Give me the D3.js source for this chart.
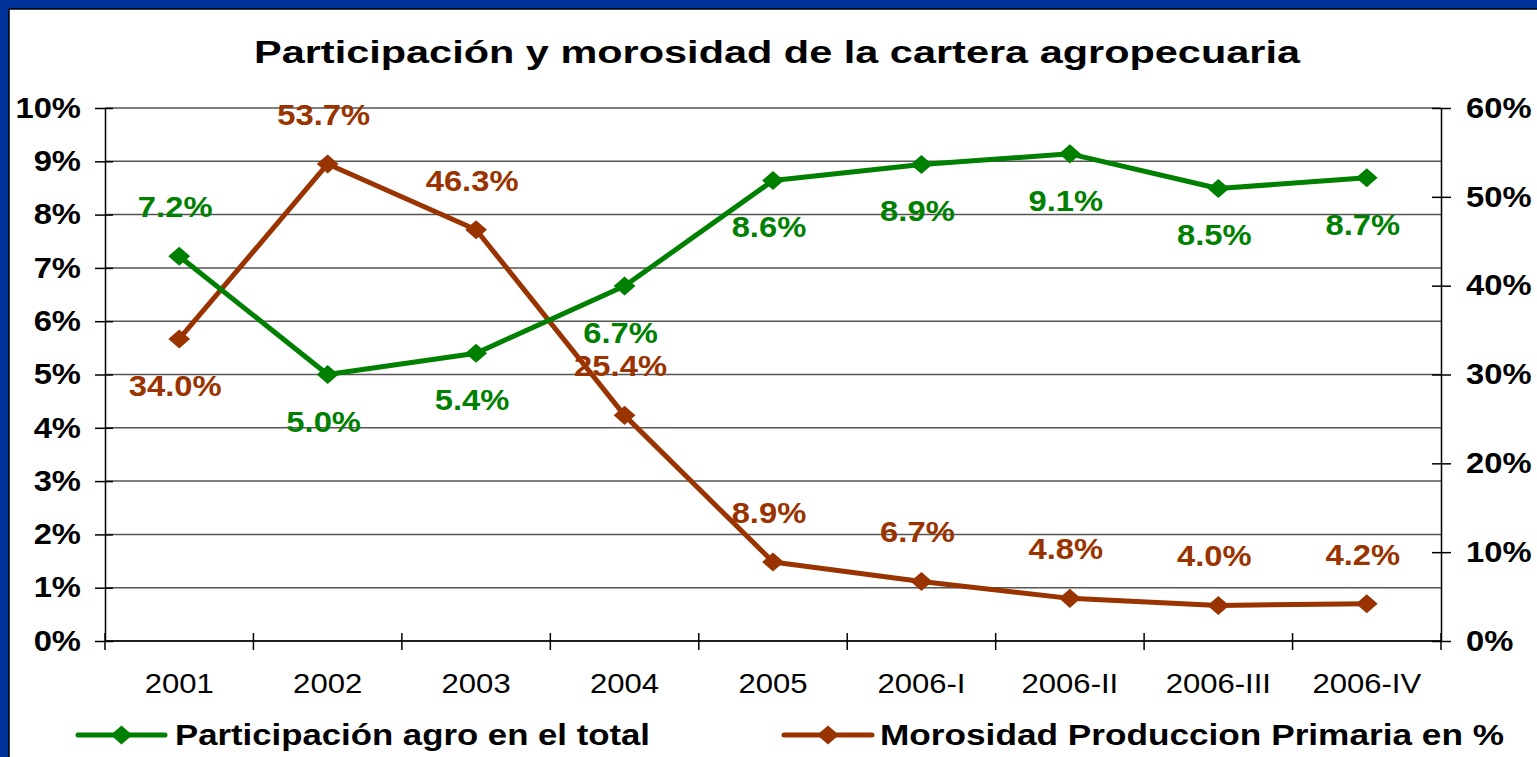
<!DOCTYPE html>
<html>
<head>
<meta charset="utf-8">
<script src="https://d3js.org/d3.v7.min.js"></script>
<style>
  body { margin: 0; background: #fff; }
  text { font-family: "Liberation Sans", Arial, sans-serif; }
</style>
</head>
<body>
<div id="chart"></div>
<script>
// chart data
var categories = ["2001", "2002", "2003", "2004", "2005", "2006-I", "2006-II", "2006-III", "2006-IV"];
var participacion = [7.22, 5.0, 5.4, 6.66, 8.64, 8.94, 9.14, 8.49, 8.69];   // left axis, %
var morosidad = [34.0, 53.7, 46.3, 25.4, 8.9, 6.7, 4.8, 4.0, 4.2];          // right axis, %
var leftTicks = [0, 1, 2, 3, 4, 5, 6, 7, 8, 9, 10];
var rightTicks = [0, 10, 20, 30, 40, 50, 60];
var seriesNames = ["Participación agro en el total", "Morosidad Produccion Primaria en %"];

var W = 1537, H = 757;
var green = "#008000", brown = "#993300";
var SX = 1.13; // the original text is a bit wide, stretch it horizontally

var svg = d3.select("#chart").append("svg")
  .attr("width", W).attr("height", H);

// blue frame
svg.append("rect").attr("width", W).attr("height", H).attr("fill", "#003399");
svg.append("rect").attr("x", 9).attr("y", 9).attr("width", W).attr("height", H)
  .attr("fill", "#fff").attr("stroke", "#000").attr("stroke-width", 1.5);

var plot = { left: 105, right: 1441, top: 108, bottom: 641 };

var x = d3.scaleBand().domain(categories).range([plot.left, plot.right]).padding(0);
var yL = d3.scaleLinear().domain([0, 10]).range([plot.bottom, plot.top]);
var yR = d3.scaleLinear().domain([0, 60]).range([plot.bottom, plot.top]);
var cx = function(c) { return x(c) + x.bandwidth() / 2; };

// title
svg.append("text")
  .attr("x", 254).attr("y", 63)
  .attr("textLength", 1046).attr("lengthAdjust", "spacingAndGlyphs")
  .style("font-size", "31px").style("font-weight", "bold")
  .text("Participación y morosidad de la cartera agropecuaria");

// gridlines
svg.append("g").selectAll("line").data(leftTicks).join("line")
  .attr("x1", plot.left).attr("x2", plot.right)
  .attr("y1", function(d) { return yL(d); }).attr("y2", function(d) { return yL(d); })
  .attr("stroke", "#555").attr("stroke-width", 1.5);

function styleTicks(g, xpos) {
  g.selectAll(".tick text").attr("fill", "#000")
    .attr("x", xpos / SX).attr("transform", "scale(" + SX + ",1)")
    .style("font-size", "29px").style("font-weight", "bold");
}

// left axis
var gL = svg.append("g").attr("transform", "translate(" + plot.left + ",0)")
  .call(d3.axisLeft(yL).tickValues(leftTicks).tickFormat(function(d) { return d + "%"; })
    .tickSizeInner(10).tickSizeOuter(0));
gL.select(".domain").attr("stroke", "#000").attr("stroke-width", 1.5);
gL.selectAll(".tick line").attr("x1", 8).attr("stroke", "#000").attr("stroke-width", 1.5);
styleTicks(gL, -24);

// right axis
var gR = svg.append("g").attr("transform", "translate(" + plot.right + ",0)")
  .call(d3.axisRight(yR).tickValues(rightTicks).tickFormat(function(d) { return d + "%"; })
    .tickSizeInner(10).tickSizeOuter(0));
gR.select(".domain").attr("stroke", "#000").attr("stroke-width", 1.5);
gR.selectAll(".tick line").attr("x1", -9).attr("stroke", "#000").attr("stroke-width", 1.5);
styleTicks(gR, 25);

// x axis, ticks between categories
var boundaries = categories.map(function(c) { return x(c); }).concat([plot.right]);
var gX = svg.append("g").attr("transform", "translate(0," + plot.bottom + ")");
gX.append("line").attr("x1", plot.left).attr("x2", plot.right)
  .attr("stroke", "#000").attr("stroke-width", 1.5);
gX.selectAll(".tk").data(boundaries).join("line").attr("class", "tk")
  .attr("x1", function(d) { return d; }).attr("x2", function(d) { return d; })
  .attr("y1", -8).attr("y2", 9).attr("stroke", "#000").attr("stroke-width", 1.5);
gX.selectAll(".lbl").data(categories).join("text").attr("class", "lbl")
  .attr("transform", function(d) { return "translate(" + cx(d) + ",52) scale(" + SX + ",1)"; })
  .attr("text-anchor", "middle")
  .style("font-size", "27.5px")
  .text(function(d) { return d; });

// square marker turned 45deg, slightly flattened like the original
var diamond = d3.symbol().type(d3.symbolSquare).size(215);
var markerTf = " scale(1.05,0.92) rotate(45)";

function drawSeries(values, yScale, color, labelBelow) {
  var pts = categories.map(function(c, i) { return { c: c, v: values[i], i: i }; });
  svg.append("path").datum(pts)
    .attr("fill", "none").attr("stroke", color).attr("stroke-width", 5)
    .attr("stroke-linejoin", "round")
    .attr("d", d3.line().x(function(d) { return cx(d.c); }).y(function(d) { return yScale(d.v); }));
  svg.append("g").selectAll("path").data(pts).join("path")
    .attr("transform", function(d) { return "translate(" + cx(d.c) + "," + yScale(d.v) + ")" + markerTf; })
    .attr("d", diamond).attr("fill", color);
  svg.append("g").selectAll("text").data(pts).join("text")
    .attr("transform", function(d) {
      var ty = yScale(d.v) + (labelBelow(d.i) ? 57 : -39);
      return "translate(" + (cx(d.c) - 4) + "," + ty + ") scale(" + SX + ",1)";
    })
    .attr("text-anchor", "middle").attr("fill", color)
    .style("font-size", "29px").style("font-weight", "bold")
    .text(function(d) { return d.v.toFixed(1) + "%"; });
}

drawSeries(morosidad, yR, brown, function(i) { return i === 0; });
drawSeries(participacion, yL, green, function(i) { return i !== 0; });

// legend
var legend = [
  { name: seriesNames[0], color: green, x1: 78, x2: 165, tx: 175, tl: 475 },
  { name: seriesNames[1], color: brown, x1: 784, x2: 872, tx: 880, tl: 624 }
];
var gLeg = svg.append("g");
legend.forEach(function(l) {
  gLeg.append("line").attr("x1", l.x1).attr("x2", l.x2).attr("y1", 735).attr("y2", 735)
    .attr("stroke", l.color).attr("stroke-width", 5).attr("stroke-linecap", "round");
  gLeg.append("path").attr("d", diamond)
    .attr("transform", "translate(" + ((l.x1 + l.x2) / 2) + ",735)" + markerTf)
    .attr("fill", l.color);
  gLeg.append("text").attr("x", l.tx).attr("y", 745)
    .attr("textLength", l.tl).attr("lengthAdjust", "spacingAndGlyphs")
    .style("font-size", "29px").style("font-weight", "bold")
    .text(l.name);
});
</script>
</body>
</html>
